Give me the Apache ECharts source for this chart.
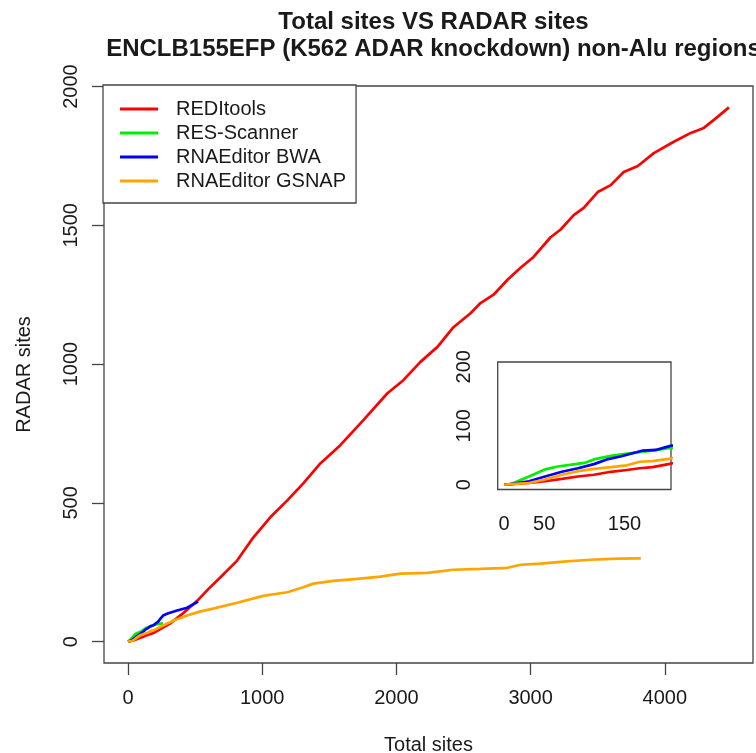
<!DOCTYPE html>
<html>
<head>
<meta charset="utf-8">
<script src="https://cdn.jsdelivr.net/npm/echarts@6/dist/echarts.min.js"></script>
<style>
html,body{margin:0;padding:0;background:#fff;}
#chart{width:756px;height:753px;}
</style>
</head>
<body>
<div id="chart"></div>
<script>
// ---- data (Total sites, RADAR sites) ----
const seriesNames = ['REDItools', 'RES-Scanner', 'RNAEditor BWA', 'RNAEditor GSNAP'];
const seriesColors = ['#FF0000', '#00EE00', '#0000FF', '#FFA500'];

const reditools = [[0,0],[8,1],[31,3],[51,6],[72,10],[92,14],[112,17],[133,22],[153,25],[169,28],[185,30],[205,35],[250,48],[313,65],[400,98],[515,147],[600,190],[687,231],[813,292],[933,375],[1060,448],[1187,509],[1306,570],[1433,642],[1582,708],[1754,798],[1933,895],[2052,942],[2179,1008],[2306,1062],[2425,1133],[2552,1183],[2627,1220],[2724,1250],[2828,1304],[2925,1347],[3022,1386],[3149,1457],[3224,1485],[3321,1537],[3396,1563],[3500,1620],[3597,1645],[3694,1692],[3799,1714],[3918,1760],[4067,1801],[4194,1833],[4291,1851],[4366,1880],[4478,1925]];

const resScanner = [[0,0],[8,1],[31,14],[51,26],[67,31],[84,34],[100,37],[112,43],[133,49],[149,52],[165,55],[185,58],[205,62],[230,64],[261,66]];

const rnaEditorBWA = [[0,0],[8,1],[31,6],[51,14],[72,22],[92,28],[112,35],[128,43],[145,48],[165,55],[173,58],[189,59],[205,65],[225,72],[245,85],[261,94],[300,102],[366,112],[440,122],[522,144]];

const rnaEditorGSNAP = [[0,0],[8,1],[31,3],[51,9],[72,17],[92,23],[112,27],[133,30],[153,33],[169,39],[185,40],[205,44],[261,58],[350,78],[440,94],[534,108],[634,119],[813,140],[1007,165],[1187,178],[1300,195],[1381,209],[1530,219],[1709,226],[1881,234],[2030,245],[2231,248],[2425,259],[2627,262],[2828,266],[2925,277],[3075,281],[3246,288],[3448,295],[3649,299],[3821,300]];

const mainXTicks = [0, 1000, 2000, 3000, 4000];
const mainYTicks = [0, 500, 1000, 1500, 2000];
const insetXTicks = [0, 50, 150];
const insetYTicks = [0, 100, 200];
const insetRange = [0, 200];

const allData = [reditools, resScanner, rnaEditorBWA, rnaEditorGSNAP];

// R-style 4% axis extension
function rRange(vals) {
  const mn = Math.min(...vals), mx = Math.max(...vals);
  const e = (mx - mn) * 0.04;
  return [mn - e, mx + e];
}
const xr = rRange(allData.flat().map(p => p[0]));
const yr = rRange(allData.flat().map(p => p[1]));
const ir = rRange(insetRange);

const FONT = "'Liberation Sans', Arial, Helvetica, sans-serif";
const TXT = '#1a1a1a';
const BOX = '#444';

function axisCommon(ticks, rotate, withTicks) {
  return {
    type: 'value',
    axisLine: { show: false, onZero: false },
    axisTick: { show: withTicks, length: 12, inside: false, customValues: ticks,
                lineStyle: { color: BOX, width: 1.3 } },
    axisLabel: { customValues: ticks, fontSize: 20, color: TXT, fontFamily: FONT,
                 formatter: v => String(v),
                 rotate: rotate, margin: rotate ? 23 : 25, lineHeight: 20, showMinLabel: true, showMaxLabel: true },
    splitLine: { show: false }
  };
}

const series = [];
allData.forEach((d, i) => {
  series.push({
    name: seriesNames[i], type: 'line', xAxisIndex: 0, yAxisIndex: 0,
    data: d, showSymbol: false, symbol: 'none', clip: true,
    lineStyle: { color: seriesColors[i], width: 2.7 }, itemStyle: { color: seriesColors[i] },
    animation: false, z: 2 + i
  });
});
allData.forEach((d, i) => {
  series.push({
    name: seriesNames[i], type: 'line', xAxisIndex: 1, yAxisIndex: 1,
    data: d, showSymbol: false, symbol: 'none', clip: true,
    lineStyle: { color: seriesColors[i], width: 2.7 }, itemStyle: { color: seriesColors[i] },
    animation: false, z: 2 + i
  });
});

const option = {
  animation: false,
  backgroundColor: '#fff',
  textStyle: { fontFamily: FONT },
  title: {
    text: 'Total sites VS RADAR sites\nENCLB155EFP (K562 ADAR knockdown) non-Alu regions',
    left: 428.5, top: 4, textAlign: 'center',
    textStyle: { fontSize: 24, fontWeight: 'bold', color: TXT, lineHeight: 27, fontFamily: FONT }
  },
  legend: {
    data: seriesNames, orient: 'vertical', left: 103, top: 85,
    backgroundColor: '#fff', borderColor: BOX, borderWidth: 1.3, borderRadius: 0,
    padding: [14, 10, 12, 17], itemWidth: 38, itemHeight: 3, itemGap: 4, icon: 'rect',
    selectedMode: false,
    textStyle: { fontSize: 20, color: TXT, lineHeight: 20, fontFamily: FONT, padding: [0, 0, 0, 13] }
  },
  grid: [
    { left: 104, top: 86, width: 649, height: 577, show: true, borderColor: BOX, borderWidth: 1.3,
      backgroundColor: 'transparent', containLabel: false, outerBoundsMode: 'none' },
    { left: 497.7, top: 362, width: 173.3, height: 127.5, show: true, borderColor: BOX, borderWidth: 1.3,
      backgroundColor: '#fff', containLabel: false, outerBoundsMode: 'none' }
  ],
  xAxis: [
    Object.assign(axisCommon(mainXTicks, 0, true), { gridIndex: 0, min: xr[0], max: xr[1],
      name: 'Total sites', nameLocation: 'middle', nameGap: 72,
      nameTextStyle: { fontSize: 20, color: TXT, fontFamily: FONT, lineHeight: 20 } }),
    Object.assign(axisCommon(insetXTicks, 0, false), { gridIndex: 1, min: ir[0], max: ir[1] })
  ],
  yAxis: [
    Object.assign(axisCommon(mainYTicks, 90, true), { gridIndex: 0, min: yr[0], max: yr[1],
      name: 'RADAR sites', nameLocation: 'middle', nameGap: 70, nameRotate: 90,
      nameTextStyle: { fontSize: 20, color: TXT, fontFamily: FONT, lineHeight: 20 } }),
    Object.assign(axisCommon(insetYTicks, 90, false), { gridIndex: 1, min: ir[0], max: ir[1] })
  ],
  series: series
};

const chart = echarts.init(document.getElementById('chart'), null, { renderer: 'canvas' });
chart.setOption(option);
</script>
</body>
</html>
